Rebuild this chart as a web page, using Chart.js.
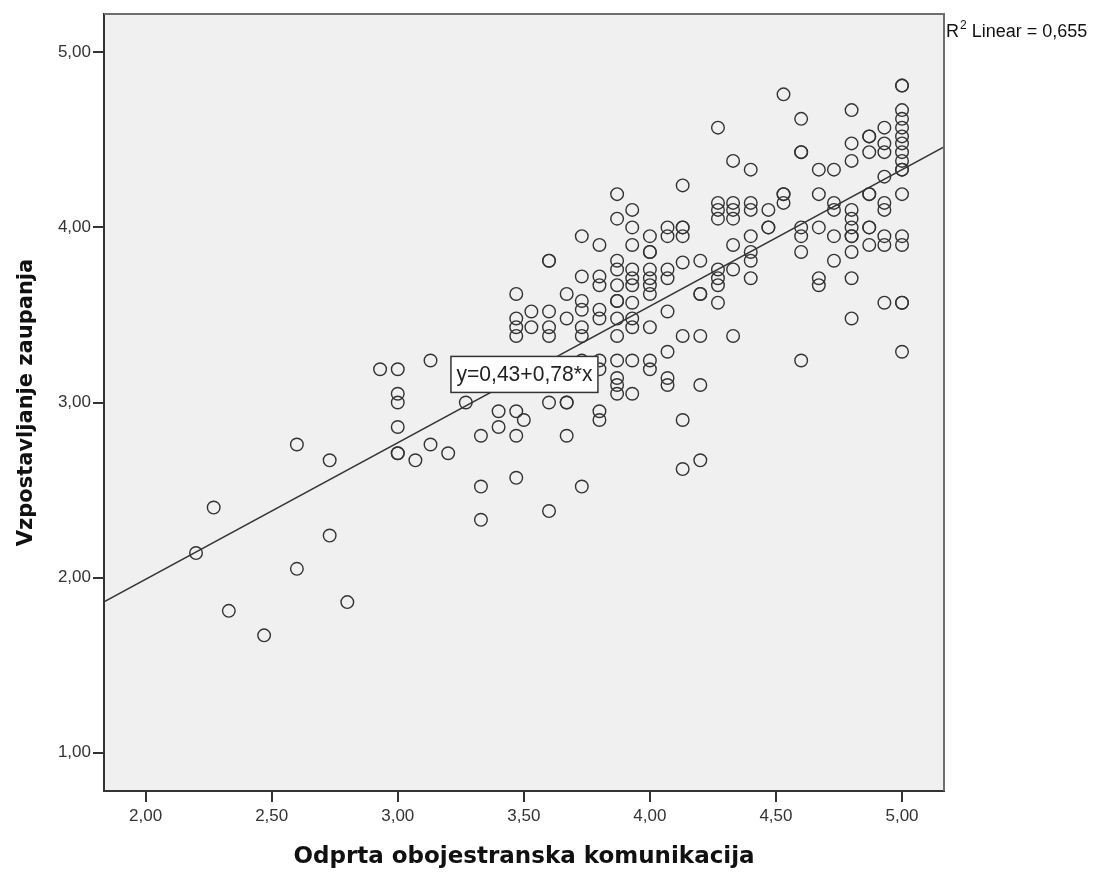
<!DOCTYPE html>
<html>
<head>
<meta charset="utf-8">
<script src="https://cdn.jsdelivr.net/npm/chart.js@4.4.1/dist/chart.umd.min.js"></script>
<style>
  body { margin: 0; background: #fff; }
  #wrap { width: 1105px; height: 876px; }
</style>
</head>
<body>
<div id="wrap"><canvas id="myChart" width="1105" height="876"></canvas></div>
<script>
// x levels of "Odprta obojestranska komunikacija" and the y values seen at each level
const xLevels = [2.20, 2.27, 2.33, 2.47, 2.60, 2.73, 2.80, 2.93, 3.00, 3.07, 3.13, 3.20, 3.27, 3.33, 3.40,
  3.47, 3.50, 3.53, 3.60, 3.67, 3.73, 3.80, 3.87, 3.93, 4.00, 4.07, 4.13, 4.20, 4.27, 4.33, 4.40, 4.47,
  4.53, 4.60, 4.67, 4.73, 4.80, 4.87, 4.93, 5.00];
const yAtLevel = [
  [2.14],
  [2.40],
  [1.81],
  [1.67],
  [2.76, 2.05],
  [2.67, 2.24],
  [1.86],
  [3.19],
  [3.19, 3.05, 3.00, 2.86, 2.71, 2.71],
  [2.67],
  [3.24, 2.76],
  [2.71],
  [3.00],
  [2.81, 2.52, 2.33],
  [2.95, 2.86],
  [3.62, 3.48, 3.43, 3.38, 2.95, 2.81, 2.57],
  [2.90],
  [3.52, 3.43],
  [3.81, 3.81, 3.52, 3.43, 3.38, 3.00, 2.38],
  [3.62, 3.48, 3.00, 3.00, 2.81],
  [3.95, 3.72, 3.58, 3.53, 3.43, 3.38, 3.24, 2.52],
  [3.90, 3.72, 3.67, 3.53, 3.48, 3.24, 3.19, 2.95, 2.90],
  [4.19, 4.05, 3.81, 3.76, 3.67, 3.58, 3.58, 3.48, 3.38, 3.24, 3.14, 3.10, 3.05],
  [4.10, 4.00, 3.90, 3.76, 3.71, 3.67, 3.57, 3.48, 3.43, 3.24, 3.05],
  [3.95, 3.86, 3.86, 3.76, 3.71, 3.67, 3.62, 3.43, 3.24, 3.19],
  [4.00, 3.95, 3.76, 3.71, 3.52, 3.29, 3.14, 3.10],
  [4.24, 4.00, 4.00, 3.95, 3.80, 3.38, 2.90, 2.62],
  [3.81, 3.62, 3.62, 3.38, 3.10, 2.67],
  [4.57, 4.14, 4.10, 4.05, 3.76, 3.71, 3.67, 3.57],
  [4.38, 4.14, 4.10, 4.05, 3.90, 3.76, 3.38],
  [4.33, 4.14, 4.10, 3.95, 3.86, 3.81, 3.71],
  [4.10, 4.00, 4.00],
  [4.76, 4.19, 4.19, 4.14],
  [4.62, 4.43, 4.43, 4.00, 3.95, 3.86, 3.24],
  [4.33, 4.19, 4.00, 3.71, 3.67],
  [4.33, 4.14, 4.10, 3.95, 3.81],
  [4.67, 4.48, 4.38, 4.10, 4.05, 4.00, 3.95, 3.95, 3.86, 3.71, 3.48],
  [4.52, 4.52, 4.43, 4.19, 4.19, 4.00, 4.00, 3.90],
  [4.57, 4.48, 4.43, 4.29, 4.14, 4.10, 3.95, 3.90, 3.57],
  [4.81, 4.81, 4.67, 4.62, 4.57, 4.52, 4.48, 4.43, 4.38, 4.33, 4.33, 4.19, 3.95, 3.90, 3.57, 3.57, 3.29]
];

const xTicks = [2.0, 2.5, 3.0, 3.5, 4.0, 4.5, 5.0];
const yTicks = [1.0, 2.0, 3.0, 4.0, 5.0];
const xRange = [1.835, 5.1665];
const yRange = [0.781, 5.219];

// fit line y = a + b*x
const fitA = 0.43;
const fitB = 0.78;
const fitLabel = 'y=0,43+0,78*x';
const fitLabelAt = [3.209, 3.266];   // top-left corner of the label box, in data units
const r2Text = ' Linear = 0,655';

const points = [];
for (let i = 0; i < xLevels.length; i++) {
  for (let j = 0; j < yAtLevel[i].length; j++) {
    points.push({x: xLevels[i], y: yAtLevel[i][j]});
  }
}
const fitLine = [
  {x: xRange[0], y: fitA + fitB * xRange[0]},
  {x: xRange[1], y: fitA + fitB * xRange[1]}
];

const fmt = v => v.toFixed(2).replace('.', ',');

const spssLook = {
  id: 'spssLook',
  beforeDraw(chart) {
    const {ctx, chartArea: a} = chart;
    ctx.save();
    ctx.fillStyle = '#f0f0f0';
    ctx.fillRect(a.left, a.top, a.right - a.left, a.bottom - a.top);
    ctx.restore();
  },
  afterDraw(chart) {
    const {ctx, chartArea: a, scales} = chart;
    ctx.save();
    // top and right frame
    ctx.strokeStyle = '#6e6e6e';
    ctx.lineWidth = 2;
    ctx.beginPath();
    ctx.moveTo(a.left, a.top);
    ctx.lineTo(a.right, a.top);
    ctx.lineTo(a.right, a.bottom);
    ctx.stroke();

    // equation label box
    const bx = scales.x.getPixelForValue(fitLabelAt[0]);
    const by = scales.y.getPixelForValue(fitLabelAt[1]);
    const bw = 148, bh = 37;
    ctx.fillStyle = '#ffffff';
    ctx.fillRect(bx, by, bw, bh);
    ctx.strokeStyle = '#333';
    ctx.lineWidth = 1.5;
    ctx.strokeRect(bx + 0.5, by + 0.5, bw - 1, bh - 1);
    ctx.fillStyle = '#222';
    ctx.font = '22px "Liberation Sans", Arial, sans-serif';
    ctx.textBaseline = 'middle';
    const tw = ctx.measureText(fitLabel).width;
    const target = bw - 12;
    ctx.translate(bx + 6, by + bh / 2 + 1);
    ctx.scale(target / tw, 1);
    ctx.fillText(fitLabel, 0, 0);
    ctx.setTransform(1, 0, 0, 1, 0, 0);

    // R2 note
    ctx.fillStyle = '#111';
    ctx.textBaseline = 'alphabetic';
    ctx.font = '18px "Liberation Sans", Arial, sans-serif';
    const rx = a.right + 2, ry = 37;
    ctx.fillText('R', rx, ry);
    const rw = ctx.measureText('R').width;
    ctx.font = '12px "Liberation Sans", Arial, sans-serif';
    ctx.fillText('2', rx + rw + 1, ry - 8);
    const sw = ctx.measureText('2').width;
    ctx.font = '18px "Liberation Sans", Arial, sans-serif';
    ctx.fillText(r2Text, rx + rw + sw + 1, ry);
    ctx.restore();
  }
};

const ctx = document.getElementById('myChart');
new Chart(ctx, {
  type: 'scatter',
  data: {
    datasets: [{
      label: 'points',
      data: points,
      pointRadius: 6.3,
      pointHoverRadius: 6.3,
      pointBorderWidth: 1.4,
      pointBorderColor: '#333',
      pointBackgroundColor: 'rgba(0,0,0,0)'
    }, {
      type: 'line',
      label: 'fit',
      data: fitLine,
      borderColor: '#333',
      borderWidth: 1.4,
      pointRadius: 0,
      fill: false
    }]
  },
  options: {
    responsive: false,
    animation: false,
    devicePixelRatio: 1,
    layout: {padding: {left: 0, right: 161, top: 14, bottom: 0}},
    plugins: {legend: {display: false}, tooltip: {enabled: false}},
    scales: {
      x: {
        type: 'linear',
        min: xRange[0],
        max: xRange[1],
        afterBuildTicks: s => { s.ticks = xTicks.map(v => ({value: v})); },
        afterFit: s => { s.height = 85; },
        grid: {drawOnChartArea: false, drawTicks: true, tickLength: 11, color: '#333', lineWidth: 2},
        border: {display: true, color: '#333', width: 2},
        ticks: {
          callback: v => fmt(v),
          color: '#333',
          padding: 4,
          maxRotation: 0,
          font: {family: '"Liberation Sans", Arial, sans-serif', size: 17}
        },
        title: {
          display: true,
          text: 'Odprta obojestranska komunikacija',
          color: '#111',
          padding: {top: 0, bottom: 5},
          font: {family: '"DejaVu Sans", sans-serif', size: 23, weight: 'bold'}
        }
      },
      y: {
        type: 'linear',
        min: yRange[0],
        max: yRange[1],
        afterBuildTicks: s => { s.ticks = yTicks.map(v => ({value: v})); },
        afterFit: s => { s.width = 104; },
        grid: {drawOnChartArea: false, drawTicks: true, tickLength: 11, color: '#333', lineWidth: 2},
        border: {display: true, color: '#333', width: 2},
        ticks: {
          callback: v => fmt(v),
          color: '#333',
          padding: 2,
          font: {family: '"Liberation Sans", Arial, sans-serif', size: 17}
        },
        title: {
          display: true,
          text: 'Vzpostavljanje zaupanja',
          color: '#111',
          padding: {top: 14, bottom: 0},
          font: {family: '"DejaVu Sans", sans-serif', size: 21, weight: 'bold'}
        }
      }
    }
  },
  plugins: [spssLook]
});
</script>
</body>
</html>
